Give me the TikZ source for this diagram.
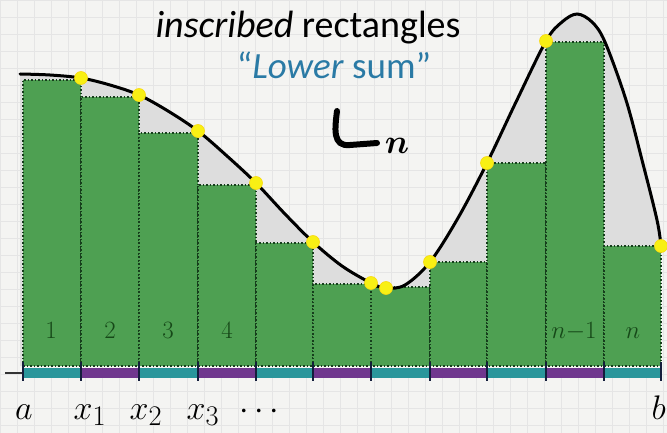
\documentclass[tikz,border=0pt]{standalone}
\usepackage{graphicx}
\usepackage{fontspec}
\usepackage{amsmath}
\newfontfamily\titlefont{Carlito}
\definecolor{bg}{RGB}{244,244,242}
\definecolor{gridc}{RGB}{229,229,229}
\definecolor{under}{RGB}{221,221,221}
\definecolor{rectg}{RGB}{78,160,82}
\definecolor{rectb}{RGB}{22,62,28}
\definecolor{numc}{RGB}{22,72,24}
\definecolor{bandteal}{RGB}{42,150,155}
\definecolor{bandpurp}{RGB}{112,55,142}
\definecolor{blu}{RGB}{42,122,165}
\definecolor{dotc}{RGB}{248,240,20}
\definecolor{tickc}{RGB}{20,30,60}
\newcommand{\bigmath}[1]{\scalebox{1.37}{$#1$}}
\tikzset{
  rectedge/.style={rectb, dotted, line width=1.5pt},
  curvestyle/.style={black, line width=3pt, line cap=round},
  ydot/.style={circle, fill=dotc, draw=dotc!80!orange, line width=0.6pt, minimum size=13pt, inner sep=0pt},
  numlab/.style={text=numc, font=\fontsize{24.88}{26}\selectfont, anchor=base},
  axlab/.style={font=\fontsize{24.88}{26}\selectfont, anchor=base},
  tickstyle/.style={tickc, line width=2pt}
}
\begin{document}
\begin{tikzpicture}[x=1pt,y=-1pt]
\fill[bg] (0,0) rectangle (667,433);
\useasboundingbox (0,0) rectangle (667,433);
\foreach \gx in {0,17,...,667} {\draw[gridc, line width=0.6pt] (\gx,0) -- (\gx,433);}
\foreach \gy in {0,17,...,433} {\draw[gridc, line width=0.6pt] (0,\gy) -- (667,\gy);}
\def\curvepts{(20,74) (50,75) (81,78) (110,85) (139,95) (168,111) (198,131) (227,156) (256,183) (285,214) (313,242) (342,266) (371,283) (386,288) (405,285) (430,262) (458,218) (487,163) (516,102) (546,41) (562,22) (577,14) (592,22) (605,42) (626,100) (642,160) (657,220) (661,246)}
% area under curve
\fill[under] plot[smooth, tension=0.55] coordinates {\curvepts} -- (661,366) -- (20,366) -- cycle;
% rectangles
\foreach \l/\r/\t in {23/81/80, 81/139/97, 139/198/133, 198/256/185, 256/313/243, 313/371/284, 371/430/287, 430/487/262, 487/546/163, 546/604/42, 604/661/246} {
  \fill[rectg] (\l,\t) rectangle (\r,366);
  \draw[rectedge] (\l,366) -- (\l,\t) -- (\r,\t) -- (\r,366);
}
\draw[rectedge] (23,366) -- (661,366);
% band
\foreach \l/\r/\c in {23/81/bandteal, 81/139/bandpurp, 139/198/bandteal, 198/256/bandpurp, 256/313/bandteal, 313/371/bandpurp, 371/430/bandteal, 430/487/bandpurp, 487/546/bandteal, 546/604/bandpurp, 604/661/bandteal} {
  \fill[\c] (\l,367.5) rectangle (\r,378);
}
\draw[black!80, line width=1.5pt] (5,373) -- (23,373);
\foreach \tx in {23,81,139,198,256,313,371,430,487,546,604,661} {\draw[tickstyle] (\tx,362) -- (\tx,381);}
% curve
\draw[curvestyle] plot[smooth, tension=0.55] coordinates {\curvepts};
% dots
\foreach \px/\py [count=\i] in {81/78, 139/95, 198/131, 256/183, 313/242, 371/283, 386/288, 430/262, 487/163, 546/41, 661/246} {
  \node[ydot] (d\i) at (\px,\py) {};
}
% numbers
\node[numlab] (n1) at (51,338) {1};
\node[numlab] (n2) at (110,338) {2};
\node[numlab] (n3) at (168,338) {3};
\node[numlab] (n4) at (227,338) {4};
\node[numlab] (nm) at (574,338) {$n{-}1$};
\node[numlab] (nn) at (633,338) {$n$};
% axis labels
\node[axlab] (la) at (24,419) {\bigmath{a}};
\node[axlab] (lx1) at (90,419) {\bigmath{x_1}};
\node[axlab] (lx2) at (146,419) {\bigmath{x_2}};
\node[axlab] (lx3) at (203,419) {\bigmath{x_3}};
\node[axlab] (ldots) at (262,419) {\bigmath{\cdots}};
\node[axlab, anchor=base east, inner sep=0pt] (lb) at (666,419) {\bigmath{b}};
% titles
\node[font=\titlefont\fontsize{38}{42}\selectfont, anchor=base] (title) at (308,38) {\textit{inscribed} rectangles};
\node[font=\titlefont\fontsize{37}{40}\selectfont, text=blu, anchor=base] (lower) at (334,79) {“\textit{Lower} sum”};
% L_n
\draw[line width=6pt, line cap=round] (337,111) .. controls (335,128) and (332,147) .. (350,145) -- (377,143);
\node[axlab] (subn) at (397,154) {\bigmath{\boldsymbol{n}}};
\end{tikzpicture}
\end{document}
